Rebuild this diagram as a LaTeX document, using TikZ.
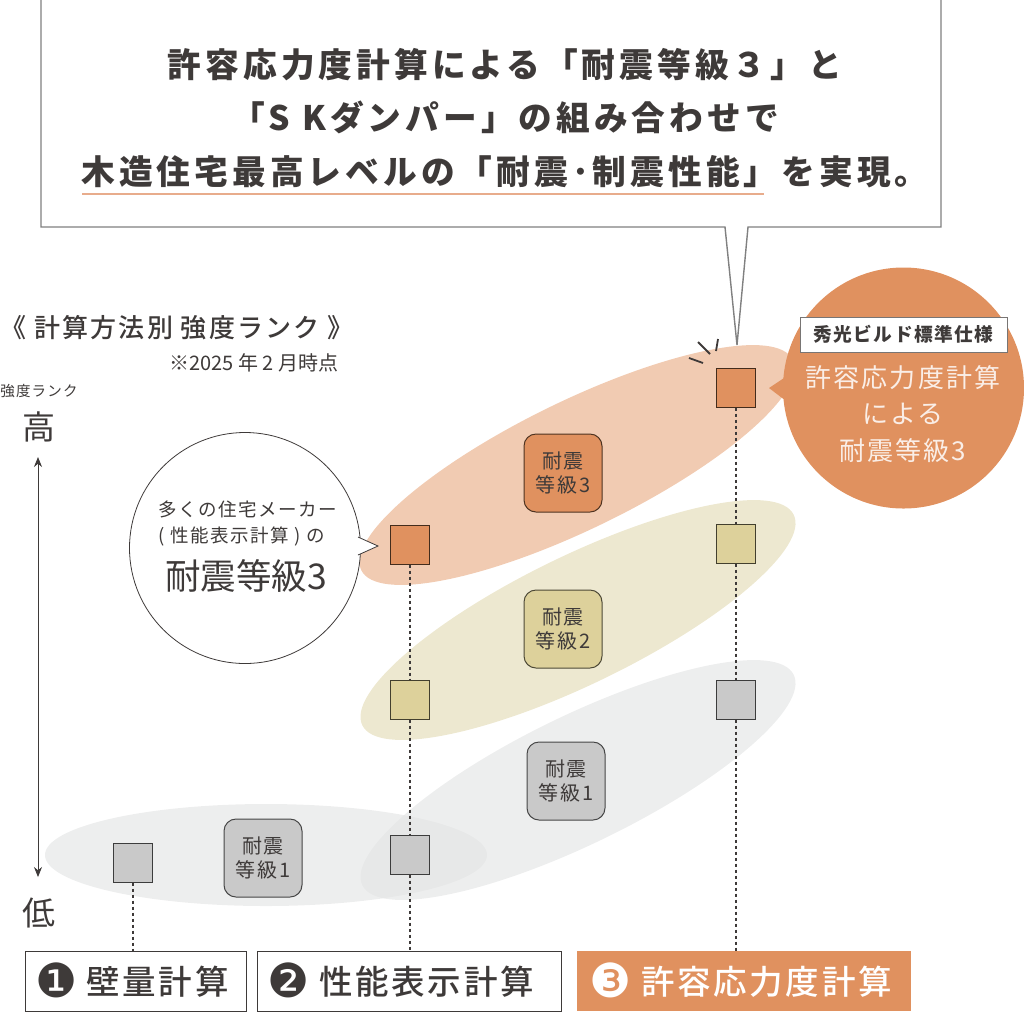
\documentclass[tikz,border=0pt]{standalone}
\usepackage{fontspec}
\usepackage{xcolor}
\usepackage{tikz}
\usetikzlibrary{arrows.meta,positioning,shapes.geometric,calc}
\setmainfont{Noto Sans CJK JP}
\newfontfamily\headfont[LetterSpace=12]{Noto Sans CJK JP}
\newfontfamily\wideofont[LetterSpace=8]{Noto Sans CJK JP}
\newfontfamily\mediumfont[LetterSpace=8]{Noto Sans CJK JP Medium}
\newfontfamily\numfont{DejaVu Sans}
\definecolor{inkgray}{HTML}{3E3A39}
\definecolor{rankorange}{HTML}{E0915F}
\definecolor{rankkhaki}{HTML}{DDD19B}
\definecolor{rankgray}{HTML}{C9C9C9}
\definecolor{bandorange}{HTML}{F1CBB2}
\definecolor{bandkhaki}{HTML}{EDE8D0}
\definecolor{bandgray}{HTML}{E4E5E5}
\definecolor{lineorange}{HTML}{E8AC8C}

\begin{document}
\begin{tikzpicture}[
    x=1pt, y=-1pt,
    text=inkgray,
    band/.style={ellipse, minimum width=480pt, minimum height=128pt, rotate=26, inner sep=0pt},
    rank/.style={rectangle, draw=#1!30!black, fill=#1, line width=1pt, minimum size=39pt, inner sep=0pt},
    gradebox/.style={rectangle, draw=#1!35!black, fill=#1, line width=1pt, rounded corners=12pt, minimum size=78pt, inner sep=0pt, align=center, font=\wideofont\fontsize{20}{24}\selectfont},
    method/.style={rectangle, minimum height=60pt, inner sep=0pt, font=\mediumfont\fontsize{33.5}{38}\selectfont},
    dotline/.style={dash pattern=on 3pt off 3pt, line width=2pt, inkgray},
    axisarrow/.style={{Stealth[length=10pt,width=8pt]}-{Stealth[length=10pt,width=8pt]}, line width=0.9pt, inkgray}
]
    \useasboundingbox (0,0) rectangle (1024,1013);

    % bands
    \node[band, fill=bandorange] (bandtop) at (577,465) {};
    \node[band, fill=bandkhaki] (bandmid) at (578,620) {};
    \node[band, fill=bandgray, fill opacity=0.65] (bandlow) at (578,780) {};
    \node[ellipse, fill=bandgray, fill opacity=0.65, minimum width=442pt, minimum height=102pt, inner sep=0pt] (bandbase) at (266,855) {};

    % headline balloon
    \draw[gray, line width=1.4pt, fill=white] (41,-2) -- (941,-2) -- (941,227) -- (748,227) -- (737,345) -- (725,227) -- (41,227) -- cycle;
    \node[font=\headfont\bfseries\fontsize{33.7}{53.5}\selectfont, align=center] (headline) at (505,118)
        {許容応力度計算による「耐震等級３」と\\「S Kダンパー」の組み合わせで\\木造住宅最高レベルの「耐震･制震性能」を実現。};
    \draw[lineorange, line width=1.8pt] (82,194) -- (764,194);

    % titles
    \node[font=\mediumfont\fontsize{26}{30}\selectfont, inner sep=0pt] (title) at (177,328) {《 計算方法別 強度ランク 》};
    \node[font=\fontsize{20}{24}\selectfont] (note) at (254,363) {※2025 年 2 月時点};

    % axis
    \node[font=\wideofont\fontsize{14.5}{16}\selectfont, inner sep=0pt] (axisname) at (39,391) {強度ランク};
    \node[font=\fontsize{33}{36}\selectfont] (high) at (39,427) {高};
    \node[font=\fontsize{33}{36}\selectfont] (low) at (39,913) {低};
    \draw[axisarrow] (38,457) -- (38,877);

    % squares
    \node[rank=rankorange] (rankc3) at (735.5,387.5) {};
    \node[rank=rankkhaki] (rankc2) at (735.5,543.5) {};
    \node[rank=rankgray] (rankc1) at (735.5,699.5) {};
    \node[rank=rankorange] (rankb3) at (409.5,544.5) {};
    \node[rank=rankkhaki] (rankb2) at (409.5,699.5) {};
    \node[rank=rankgray] (rankb1) at (409.5,854.5) {};
    \node[rank=rankgray] (ranka1) at (132.5,862.5) {};

    % grade labels
    \node[gradebox=rankorange] (grade3) at (563,473) {耐震\\等級3};
    \node[gradebox=rankkhaki] (grade2) at (563,629) {耐震\\等級2};
    \node[gradebox=rankgray] (grade1) at (566,781) {耐震\\等級1};
    \node[gradebox=rankgray] (gradebase) at (263,858) {耐震\\等級1};

    % method boxes
    \node[method, draw=inkgray, minimum width=221pt] (methoda) at (135.5,981) {\raisebox{1pt}{\numfont\fontsize{47}{47}\selectfont ❶}\hspace{8.5pt}\raisebox{4pt}{壁量計算}\hspace*{6.5pt}};
    \node[method, draw=inkgray, minimum width=304pt] (methodb) at (409,981) {\raisebox{1pt}{\numfont\fontsize{47}{47}\selectfont ❷}\hspace{10pt}\raisebox{4pt}{性能表示計算}\hspace*{17pt}};
    \node[method, fill=rankorange, text=white, minimum width=334pt] (methodc) at (744,981) {\raisebox{1pt}{\numfont\fontsize{47}{47}\selectfont ❸}\hspace{9.5pt}\raisebox{4pt}{許容応力度計算}\hspace*{6.5pt}};

    \draw[dotline] (ranka1) -- (ranka1 |- methoda.north);
    \draw[dotline] (rankb3) -- (rankb2);
    \draw[dotline] (rankb2) -- (rankb1);
    \draw[dotline] (rankb1) -- (rankb1 |- methodb.north);
    \draw[dotline] (rankc3) -- (rankc2);
    \draw[dotline] (rankc2) -- (rankc1);
    \draw[dotline] (rankc1) -- (rankc1 |- methodc.north);

    % left balloon
    \node[circle, draw=inkgray, line width=0.8pt, fill=white, minimum size=231pt, inner sep=0pt] (bubble) at (245,548) {};
    \fill[white] (358,537) -- (378,546) -- (358,555) -- cycle;
    \draw[inkgray, line width=0.8pt] (358,537) -- (378,546) -- (358,555);
    \node[font=\wideofont\fontsize{18.5}{26}\selectfont, align=left] (bubbletext) at (248,524) {多くの住宅メーカー\\( 性能表示計算 ) の};
    \node[font=\fontsize{35.5}{38}\selectfont] (bubblegrade) at (246,576) {耐震等級3};

    % right balloon
    \node[circle, fill=rankorange, minimum size=241pt, inner sep=0pt] (spec) at (903.5,388) {};
    \fill[rankorange] (790,374) -- (769,388) -- (790,404) -- cycle;
    \node[rectangle, draw=inkgray!70, line width=0.9pt, fill=white, minimum width=207pt, minimum height=35pt, inner sep=0pt, font=\wideofont\bfseries\fontsize{18.7}{20}\selectfont] (specname) at (903.5,334.5) {秀光ビルド標準仕様};
    \node[font=\wideofont\fontsize{26}{36.5}\selectfont, text=white!85!rankorange, align=center] (spectext) at (903,414) {許容応力度計算\\による\\耐震等級3};

    % spark
    \draw[inkgray, line width=1.8pt] (698,342) -- (710,354);
    \draw[inkgray, line width=1.8pt] (718,339) -- (716,351);
    \draw[inkgray, line width=1.8pt] (689,358) -- (703,363);
\end{tikzpicture}
\end{document}
